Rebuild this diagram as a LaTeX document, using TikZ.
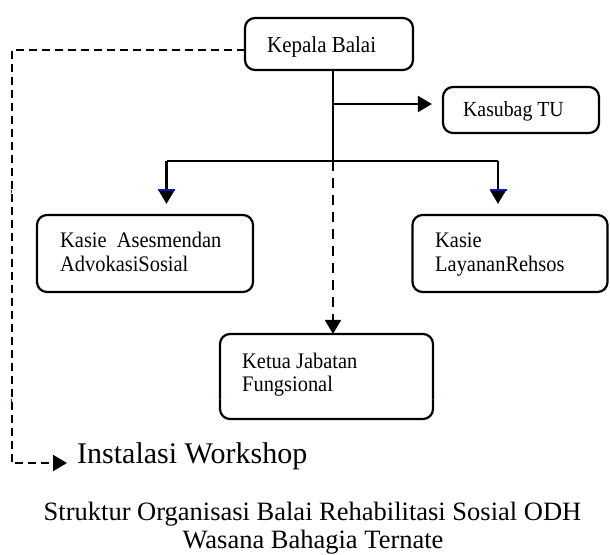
\documentclass[tikz,border=0pt]{standalone}
\usepackage{fontspec}
\setmainfont{Liberation Serif}
\newfontfamily\boxfont{Liberation Serif}[FakeStretch=0.92]
\usetikzlibrary{arrows.meta}
\definecolor{tickblue}{RGB}{20,20,190}
\begin{document}
\begin{tikzpicture}[x=1pt,y=-1pt,
  box/.style={draw,line width=2.2pt,rounded corners=10pt,inner sep=0pt},
  lbl/.style={anchor=base west,inner sep=0pt,font=\boxfont\fontsize{22.2}{24}\selectfont},
  conn/.style={line width=2.2pt},
  tip/.style={-{Triangle[length=14pt,width=16pt]}},
  dashA/.style={line width=2pt,dash pattern=on 8pt off 5pt},
  dashB/.style={line width=2.2pt,dash pattern=on 10pt off 7pt},
  btick/.style={draw=tickblue,line width=1.3pt}]
\useasboundingbox (0,0) rectangle (610,554);
% boxes
\node[box,minimum width=168pt,minimum height=52pt] (kepala) at (329,44) {};
\node[box,minimum width=156pt,minimum height=46pt] (kasubag) at (521,110) {};
\node[box,minimum width=216pt,minimum height=77pt] (asesmen) at (145,253.5) {};
\node[box,minimum width=195pt,minimum height=77pt] (layanan) at (510,253.5) {};
\node[box,minimum width=213pt,minimum height=85pt] (ketua) at (326.5,376.5) {};
% texts
\node[lbl,font=\boxfont\fontsize{22.8}{24}\selectfont] (tkepala) at (267,52) {Kepala Balai};
\node[lbl,font=\boxfont\fontsize{21.5}{24}\selectfont] (tkasubag) at (463,116) {Kasubag TU};
\node[lbl] (tas1) at (60,247) {Kasie\ \ Asesmendan};
\node[lbl] (tas2) at (60,271) {AdvokasiSosial};
\node[lbl] (tly1) at (435,247) {Kasie};
\node[lbl] (tly2) at (435,271) {LayananRehsos};
\node[lbl] (tkt1) at (242,368) {Ketua Jabatan};
\node[lbl] (tkt2) at (242,391) {Fungsional};
\node[anchor=base west,inner sep=0pt,font=\fontsize{30}{34}\selectfont] (inst) at (77,463) {Instalasi Workshop};
\node[anchor=base,inner sep=0pt,font=\fontsize{26.5}{28}\selectfont] (cap1) at (312.5,520) {Struktur Organisasi Balai Rehabilitasi Sosial ODH};
\node[anchor=base,inner sep=0pt,font=\fontsize{26.5}{28}\selectfont] (cap2) at (313,548) {Wasana Bahagia Ternate};
% coordinates
\coordinate (top) at (333,70);
\coordinate (tb) at (333,104);
\coordinate (trunk) at (333,161);
\coordinate (bl) at (166.5,161);
\coordinate (br) at (498,161);
\coordinate (kl) at (245,50);
\coordinate (ctl) at (11.5,50);
\coordinate (cbl) at (11.5,463);
% solid connectors
\draw[conn] (top) -- (trunk);
\draw[conn,tip,shorten >=10pt] (tb) -- (kasubag.west |- tb);
\draw[conn] (bl) -- (br);
\draw[conn,tip,shorten >=10pt] (bl) -- (bl |- asesmen.north);
\draw[conn,tip,shorten >=10pt] (br) -- (br |- layanan.north);
% dashed connectors
\draw[dashB,tip] (trunk) -- ([yshift=-1pt]trunk |- ketua.north);
\draw[dashA,tip] (kl) -- (ctl) -- (cbl) -- ([xshift=-10pt]inst.base west);
% blue ticks
\draw[btick] (158,190) -- (175,190);
\draw[btick] (489.5,190) -- (506.5,190);
\draw[btick] (11.5,190) -- (11.5,193);
\draw[btick] (11.5,399) -- (11.5,402);
\draw[btick] (219,399.5) -- (221,399.5);
\draw[btick] (432,399.5) -- (434,399.5);
\end{tikzpicture}
\end{document}
